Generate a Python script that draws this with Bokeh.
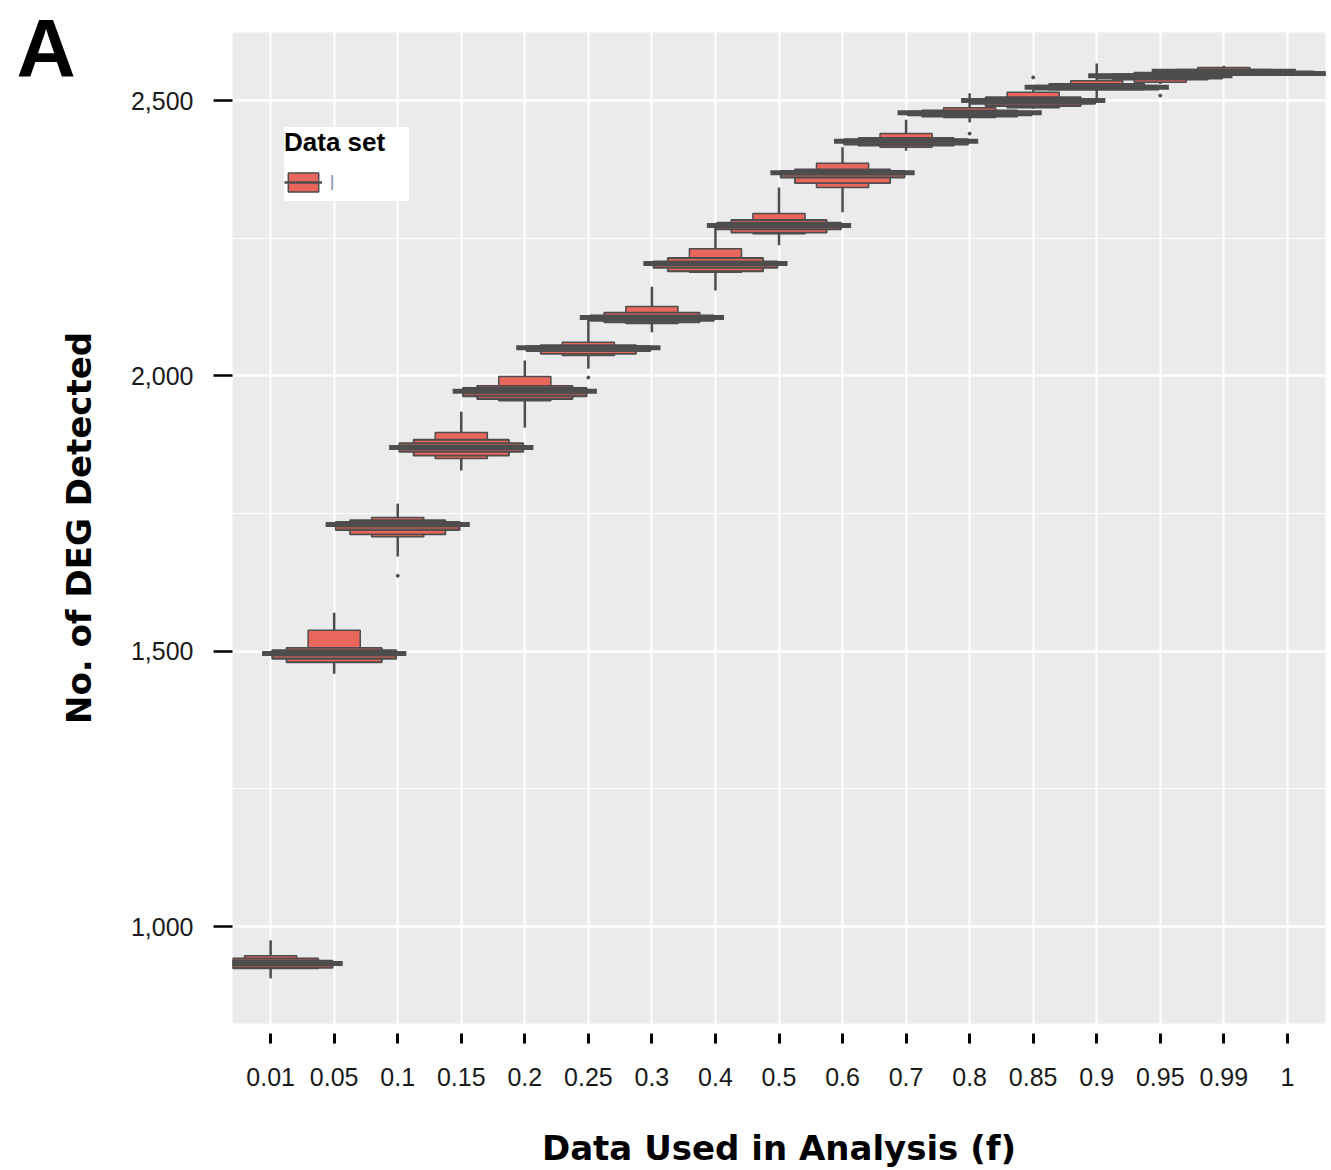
from bokeh.plotting import figure
from bokeh.models import (ColumnDataSource, FactorRange, Range1d, FixedTicker,
                          NumeralTickFormatter, Legend, LegendItem, Title)
from bokeh.embed import file_html
from bokeh.resources import INLINE

# ---------------- data ----------------
categories = ["0.01", "0.05", "0.1", "0.15", "0.2", "0.25", "0.3", "0.4", "0.5",
              "0.6", "0.7", "0.8", "0.85", "0.9", "0.95", "0.99", "1"]
median  = [933, 1496, 1730, 1870, 1972, 2051, 2106, 2204, 2273, 2369, 2426, 2478, 2500, 2524, 2545, 2553, 2549]
box1_lo = [929, 1490, 1708, 1850, 1955, 2037, 2095, 2188, 2258, 2342, 2415, 2469, 2487, 2527, 2533, 2549, 2546]
box1_hi = [947, 1538, 1743, 1897, 1999, 2061, 2126, 2231, 2295, 2386, 2440, 2487, 2515, 2536, 2551, 2560, 2553]
box2_lo = [924, 1480, 1712, 1855, 1958, 2040, 2097, 2190, 2260, 2350, 2418, 2471, 2490, 2520, 2538, 2550, 2547]
box2_hi = [942, 1506, 1738, 1884, 1982, 2056, 2115, 2214, 2283, 2375, 2432, 2482, 2506, 2530, 2548, 2556, 2551]
box3_lo = [925, 1486, 1720, 1862, 1963, 2045, 2100, 2196, 2266, 2360, 2420, 2473, 2494, 2520, 2540, 2549, 2546]
box3_hi = [938, 1502, 1735, 1878, 1978, 2054, 2110, 2208, 2278, 2372, 2430, 2480, 2503, 2527, 2547, 2555, 2551]
whisk_lo = [906, 1459, 1672, 1828, 1906, 2013, 2079, 2155, 2237, 2297, 2409, 2460, 2485, 2496, 2530, 2545, 2545]
whisk_hi = [975, 1570, 1768, 1935, 2028, 2104, 2162, 2277, 2342, 2415, 2465, 2513, 2520, 2567, 2556, 2563, 2555]
outlier_cat = ["0.1", "0.25", "0.8", "0.85", "0.95"]
outlier_val = [1637, 1997, 2440, 2542, 2509]
y_ticks = [1000, 1500, 2000, 2500]
y_minor = [1250, 1750, 2250]

FILL = "#E8665C"
EDGE = "#4D4D4D"
FONT = "Liberation Sans"
TFONT = "DejaVu Sans"

src = ColumnDataSource(dict(cat=categories, med=median, b1l=box1_lo, b1h=box1_hi,
                            b2l=box2_lo, b2h=box2_hi, b3l=box3_lo, b3h=box3_hi,
                            wl=whisk_lo, wh=whisk_hi))
osrc = ColumnDataSource(dict(cat=outlier_cat, val=outlier_val))

p = figure(x_range=FactorRange(factors=categories, range_padding=0.1,
                               range_padding_units="absolute"),
           y_range=Range1d(824, 2623.5),
           frame_width=1093, frame_height=991,
           min_border_left=232, min_border_top=32, min_border_right=4, min_border_bottom=120,
           output_backend="svg", toolbar_location=None)

p.background_fill_color = "#EBEBEB"
p.border_fill_color = "white"
p.outline_line_color = None

# grid
p.xgrid.grid_line_color = "white"
p.xgrid.grid_line_width = 2
p.ygrid.grid_line_color = "white"
p.ygrid.grid_line_width = 2.5
p.ygrid.minor_grid_line_color = "white"
p.ygrid.minor_grid_line_width = 1.2

# glyphs
r_wh = p.segment(x0="cat", y0="wl", x1="cat", y1="wh", source=src,
                 line_color=EDGE, line_width=2.5)
r_b1 = p.vbar(x="cat", width=0.82, bottom="b1l", top="b1h", source=src,
              fill_color=FILL, line_color=EDGE, line_width=1.5)
p.vbar(x="cat", width=1.5, bottom="b2l", top="b2h", source=src,
       fill_color=FILL, line_color=EDGE, line_width=1.8)
p.vbar(x="cat", width=1.95, bottom="b3l", top="b3h", source=src,
       fill_color="#9A5A54", line_color=EDGE, line_width=1.8)
p.rect(x="cat", y="med", width=2.27, height=5, height_units="screen", source=src,
       fill_color=EDGE, line_color=None)
p.scatter(x="cat", y="val", source=osrc, size=3, color=EDGE)

# axes
p.yaxis.ticker = FixedTicker(ticks=y_ticks, minor_ticks=y_minor)
p.yaxis.formatter = NumeralTickFormatter(format="0,0")
for ax in (p.xaxis[0], p.yaxis[0]):
    ax.axis_line_color = None
    ax.major_tick_line_color = "black"
    ax.minor_tick_line_color = None
    ax.major_label_text_font = FONT
    ax.major_label_text_font_size = "25px"
    ax.major_label_text_color = "#1a1a1a"
    ax.axis_label_text_font = TFONT
    ax.axis_label_text_font_style = "bold"
    ax.axis_label_text_font_size = "34px"
    ax.axis_label_text_color = "black"

p.xaxis.major_tick_in = -10
p.xaxis.major_tick_out = 20
p.xaxis.major_tick_line_width = 3
p.xaxis.major_label_standoff = 24
p.xaxis.axis_label = "Data Used in Analysis (f)"
p.xaxis.axis_label_standoff = 39

p.yaxis.major_tick_in = 0
p.yaxis.major_tick_out = 19
p.yaxis.major_tick_line_width = 2.5
p.yaxis.major_label_standoff = 20
p.yaxis.axis_label = "No. of DEG Detected"
p.yaxis.axis_label_standoff = 29

# legend
leg = Legend(items=[LegendItem(label="|", renderers=[r_b1, r_wh])],
             title="Data set", location=(52, 822),
             title_text_font=FONT, title_text_font_style="bold", title_text_font_size="26px",
             title_text_color="black", title_standoff=5,
             label_text_font=FONT, label_text_font_size="16px", label_text_color="#7d84ad",
             glyph_width=38, glyph_height=24, label_height=38, label_width=79,
             label_standoff=8,
             padding=10, margin=0, border_line_color=None,
             background_fill_color="white", background_fill_alpha=1)
p.add_layout(leg, "center")

# panel letter
p.add_layout(Title(text="A", align="left", offset=-216, standoff=-121,
                   vertical_align="bottom", text_font=FONT, text_font_style="bold",
                   text_font_size="82px", text_color="black"), "above")

open("out.html", "w").write(file_html(p, INLINE))
